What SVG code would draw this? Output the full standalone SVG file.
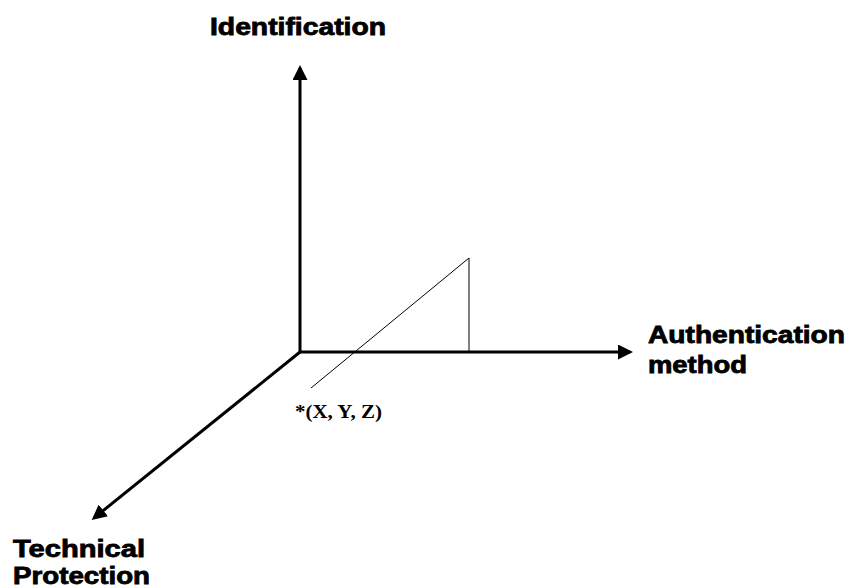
<svg xmlns="http://www.w3.org/2000/svg" width="849" height="588" viewBox="0 0 849 588">
<style>
.lbl{font-family:"Liberation Sans",Arial,sans-serif;font-weight:bold;font-size:23px;fill:#000;stroke:#000;stroke-width:0.8}
.axis{stroke:#000;stroke-width:3;fill:none}
.thin{stroke:#000;stroke-width:1;fill:none}
</style>
<defs>
<marker id="ah" markerWidth="5" markerHeight="5" refX="4" refY="2.5" orient="auto" markerUnits="strokeWidth">
<path d="M0,0 L5,2.5 L0,5 Z" fill="#000"/>
</marker>
</defs>
<rect width="849" height="588" fill="#fff"/>
<g id="connectors">
<line class="axis" x1="300" y1="352" x2="300" y2="68" marker-end="url(#ah)"/>
<line class="axis" x1="299" y1="352" x2="630" y2="352" marker-end="url(#ah)"/>
<line class="axis" x1="300" y1="352" x2="94" y2="518" marker-end="url(#ah)"/>
<line class="thin" x1="469" y1="258" x2="469" y2="352"/>
<line class="thin" x1="469" y1="258" x2="311" y2="388"/>
</g>
<g id="identification"><text class="lbl" x="210" y="35" textLength="176" lengthAdjust="spacingAndGlyphs">Identification</text></g>
<g id="authentication"><text class="lbl" x="648" y="343" textLength="197" lengthAdjust="spacingAndGlyphs">Authentication</text><text class="lbl" x="648" y="373" textLength="99" lengthAdjust="spacingAndGlyphs">method</text></g>
<g id="technical"><text class="lbl" x="13" y="557" textLength="132" lengthAdjust="spacingAndGlyphs">Technical</text><text class="lbl" x="13" y="584" font-size="22" textLength="137" lengthAdjust="spacingAndGlyphs">Protection</text></g>
<g id="point"><text x="295" y="418" font-family="Liberation Serif,'Times New Roman',serif" font-weight="bold" font-size="19" textLength="87" lengthAdjust="spacingAndGlyphs">*(X, Y, Z)</text></g>
</svg>
